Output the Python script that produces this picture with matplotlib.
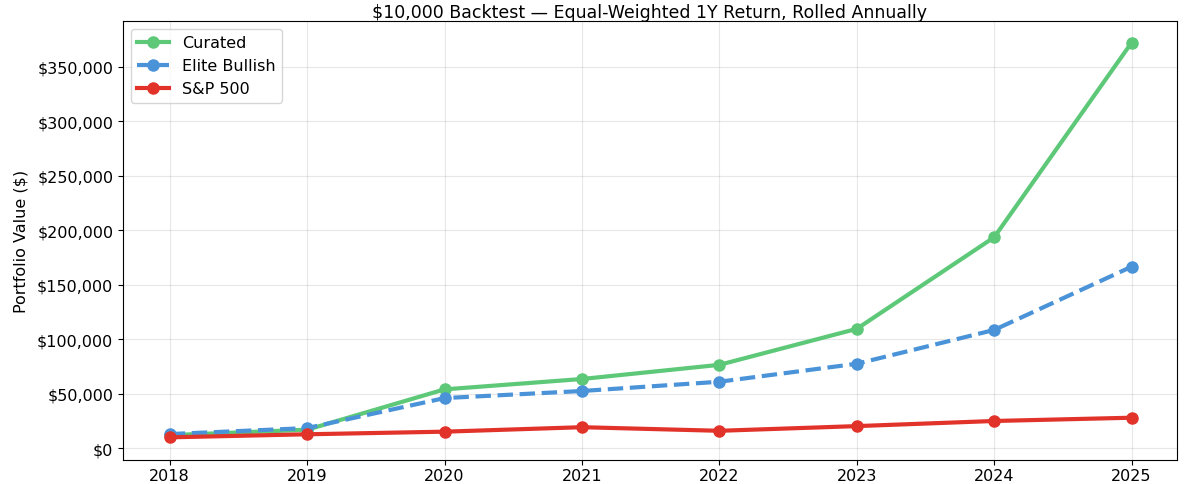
import matplotlib
matplotlib.use("Agg")
import matplotlib.pyplot as plt
from matplotlib.ticker import FuncFormatter

years = [2018, 2019, 2020, 2021, 2022, 2023, 2024, 2025]
curated = [12000, 17000, 54000, 63500, 76500, 109500, 193500, 372000]
elite = [13000, 18500, 46000, 52500, 61000, 77500, 108500, 166500]
sp500 = [10000, 12800, 15200, 19300, 16000, 20300, 25000, 28000]

fig = plt.figure(figsize=(11.99, 4.85), dpi=100)
ax = fig.add_axes([0.1026, 0.049, 0.8790, 0.906])

ax.plot(years, curated, '-o', color='#5dc878', lw=3, ms=8, label='Curated')
ax.plot(years, elite, '--o', color='#4a93d8', lw=3, ms=8, label='Elite Bullish')
ax.plot(years, sp500, '-o', color='#e2332a', lw=3, ms=8, label='S&P 500')

ax.set_ylabel("Portfolio Value ($)", fontsize=11.5, labelpad=6)
ax.set_title("$10,000 Backtest — Equal-Weighted 1Y Return, Rolled Annually", fontsize=12.5, pad=3)
ax.yaxis.set_major_formatter(FuncFormatter(lambda v, p: f"${v:,.0f}"))
ax.set_xticks(years)
ax.set_xlim(2017.66, 2025.33)
ax.set_ylim(-11000, 392000)
ax.tick_params(labelsize=11.5)
ax.tick_params(axis='x', pad=2)
ax.grid(True, alpha=0.3)
ax.legend(loc='upper left', fontsize=11.5)

fig.savefig("out.png", dpi=100)
